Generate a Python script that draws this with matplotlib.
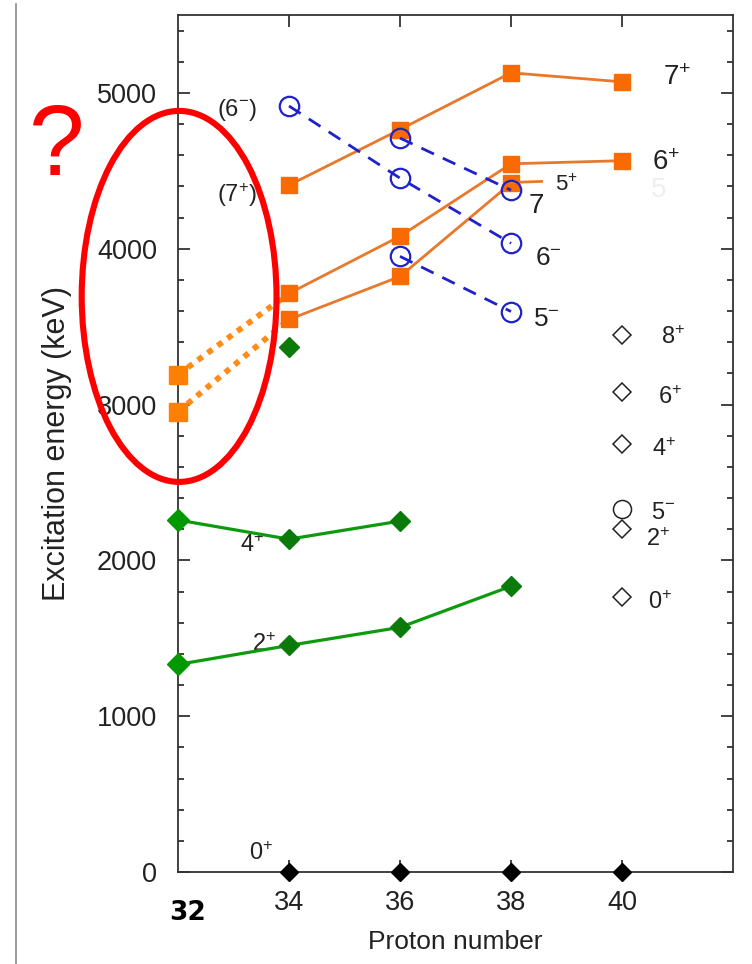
import matplotlib
matplotlib.use("Agg")
import matplotlib.pyplot as plt
from matplotlib.patches import Ellipse
from matplotlib.lines import Line2D
from matplotlib.ticker import MultipleLocator

plt.rcParams['font.family'] = ['Liberation Sans', 'DejaVu Sans']
plt.rcParams['mathtext.fontset'] = 'custom'
plt.rcParams['mathtext.rm'] = 'Liberation Sans'
plt.rcParams['mathtext.it'] = 'Liberation Sans:italic'
plt.rcParams['mathtext.default'] = 'regular'

# ---------------- data ----------------
xticks = [34, 36, 38, 40]
yticks = [0, 1000, 2000, 3000, 4000, 5000]

# green 2+ and 4+ systematics
g2_x = [32, 34, 36, 38]
g2_y = [1332, 1454, 1570, 1834]
g4_x = [32, 34, 36]
g4_y = [2259, 2136, 2252]
g_iso_x = [34]
g_iso_y = [3372]

# ground states 0+
gs_x = [34, 36, 38, 40]
gs_y = [0, 0, 0, 0]

# orange positive-parity bands
o7_x = [34, 36, 38, 40]
o7_y = [4408, 4765, 5129, 5071]
o6_x = [34, 36, 38, 40]
o6_y = [3713, 4080, 4545, 4565]
o5_x = [34, 36, 38]
o5_y = [3546, 3822, 4420]
o5_stub_x = [38, 38.55]
o5_stub_y = [4425, 4432]

# new (x=32) points with dotted links
n_x = [32, 32]
n_y = [3192, 2954]
d_up_x = [32, 34]
d_up_y = [3192, 3713]
d_lo_x = [32, 34]
d_lo_y = [2954, 3546]

# blue negative-parity bands
b6_x = [34, 36, 38]
b6_y = [4916, 4453, 4035]
b7_x = [36, 38]
b7_y = [4710, 4376]
b5_x = [36, 38]
b5_y = [3951, 3597]

# right-hand open-symbol key
key_d_x = [40, 40, 40, 40, 40]
key_d_y = [3449, 3082, 2748, 2201, 1763]
key_c_x = [40]
key_c_y = [2329]

# ---------------- figure ----------------
fig = plt.figure(figsize=(7.52, 9.64), dpi=100)
fig.patch.set_facecolor('white')
ax = fig.add_axes([178/752, 1-872/964, (733-178)/752, (872-15)/964])
ax.set_xlim(32, 42)
ax.set_ylim(0, 5500)

spine_c = '#333333'
for s in ax.spines.values():
    s.set_color(spine_c)
    s.set_linewidth(1.3)

ax.set_xticks(xticks)
ax.set_xticklabels([str(v) for v in xticks])
ax.set_yticks(yticks)
ax.set_yticklabels([str(v) for v in yticks])
ax.yaxis.set_minor_locator(MultipleLocator(200))
ax.tick_params(axis='both', which='major', direction='in', length=8.6, width=1.3,
               color=spine_c, top=True, right=True, labelsize=19.5, labelcolor='#222222')
ax.tick_params(axis='y', which='major', pad=15)
ax.tick_params(axis='x', which='major', pad=13)
ax.tick_params(axis='y', which='minor', direction='in', length=4.6, width=1.3,
               color=spine_c, right=True)

ax.set_xlabel('Proton number', fontsize=19, color='#222222', labelpad=10)
ax.set_ylabel('Excitation energy (keV)', fontsize=22, color='#222222')
ax.yaxis.set_label_coords(-(178-72)/(733-178), 0.5)

# bold "32" overlay label
ax.text(32.18, -0.033, '32', transform=ax.get_xaxis_transform(), ha='center', va='top',
        fontsize=19, fontweight='bold', family='DejaVu Sans', color='black')

orange_line = '#e8782c'
orange_sq = '#f96a00'
green_line = '#0e9a0e'
green_dark = '#0b7a0b'
blue = '#1e22c8'

# green
ax.plot(g2_x, g2_y, color=green_line, lw=2.3, marker='D', ms=10,
        mfc=green_dark, mec=green_dark, zorder=4, clip_on=False)
ax.plot(g4_x, g4_y, color=green_line, lw=2.3, marker='D', ms=10,
        mfc=green_dark, mec=green_dark, zorder=4, clip_on=False)
ax.plot(g2_x[:1], g2_y[:1], ls='none', marker='D', ms=11.5, mfc='#009a00', mec='#009a00', zorder=5, clip_on=False)
ax.plot(g4_x[:1], g4_y[:1], ls='none', marker='D', ms=11.5, mfc='#009a00', mec='#009a00', zorder=5, clip_on=False)
ax.plot(g_iso_x, g_iso_y, ls='none', marker='D', ms=10, mfc=green_dark, mec=green_dark, zorder=4)

# ground states
ax.plot(gs_x, gs_y, ls='none', marker='D', ms=9, mfc='black', mec='black', zorder=6, clip_on=False)

# orange bands
for xs, ys in [(o7_x, o7_y), (o6_x, o6_y), (o5_x, o5_y)]:
    ax.plot(xs, ys, color=orange_line, lw=2.0, marker='s', ms=11,
            mfc=orange_sq, mec=orange_sq, zorder=3)
ax.plot(o5_stub_x, o5_stub_y, color=orange_line, lw=2.0, zorder=3)

# dotted links to x=32
ax.plot(d_up_x, d_up_y, color='#ff8c1a', lw=4.2, ls=(0, (1, 1.1)), zorder=2, clip_on=False)
ax.plot(d_lo_x, d_lo_y, color='#ff8c1a', lw=4.2, ls=(0, (1, 1.1)), zorder=2, clip_on=False)
ax.plot(n_x, n_y, ls='none', marker='s', ms=13, mfc='#ff8000', mec='#ff8000', zorder=5, clip_on=False)

# blue bands
for xs, ys in [(b6_x, b6_y), (b7_x, b7_y), (b5_x, b5_y)]:
    ax.plot(xs, ys, color=blue, lw=2.0, ls=(0, (5, 3.5)), marker='o', ms=14,
            mfc='none', mec=blue, mew=1.6, zorder=4)

# key symbols
ax.plot(key_d_x, key_d_y, ls='none', marker='D', ms=9, mfc='none', mec='#222222', mew=1.1)
ax.plot(key_c_x, key_c_y, ls='none', marker='o', ms=13, mfc='none', mec='#222222', mew=1.1)

# level labels
tc = '#222222'
def lab(x, y, s, fs=19, color=tc):
    ax.text(x, y, s, ha='left', va='baseline', fontsize=fs, color=color, clip_on=False)

lab(32.70, 4852, r'(6$^{-}$)', 17)
lab(32.70, 4298, r'(7$^{+}$)', 17)
lab(40.74, 5051, r'7$^{+}$', 20)
lab(40.54, 4505, r'6$^{+}$', 20)
lab(40.52, 4330, '5', 20, '#eeeeee')
lab(38.79, 4369, r'5$^{+}$', 16)
lab(38.32, 4228, '7', 20)
lab(38.43, 3893, r'6$^{-}$', 19)
lab(38.40, 3507, r'5$^{-}$', 19)
lab(40.70, 3391, r'8$^{+}$', 17)
lab(40.65, 3005, r'6$^{+}$', 17)
lab(40.54, 2670, r'4$^{+}$', 17)
lab(40.52, 2265, r'5$^{-}$', 17)
lab(40.43, 2091, r'2$^{+}$', 17)
lab(40.47, 1686, r'0$^{+}$', 17)
lab(33.12, 2053, r'4$^{+}$', 17)
lab(33.33, 1416, r'2$^{+}$', 17)
lab(33.28, 77, r'0$^{+}$', 17)

# red annotation: ellipse and question mark
ell = Ellipse((32.02, 3694), width=3.51, height=2381, fill=False, edgecolor='#ff0000',
              lw=4.4, zorder=7, clip_on=False)
ax.add_patch(ell)
fig.text(57/752, 1-149/964, '?', ha='center', va='center', fontsize=72, color='#ff0000',
         family='Liberation Sans')

# thin grey border line at left
fig.add_artist(Line2D([16/752, 16/752], [0, 1-4/964], transform=fig.transFigure,
                      color='#8a8a8a', lw=1.2))

fig.savefig('out.png', dpi=100, facecolor='white')
